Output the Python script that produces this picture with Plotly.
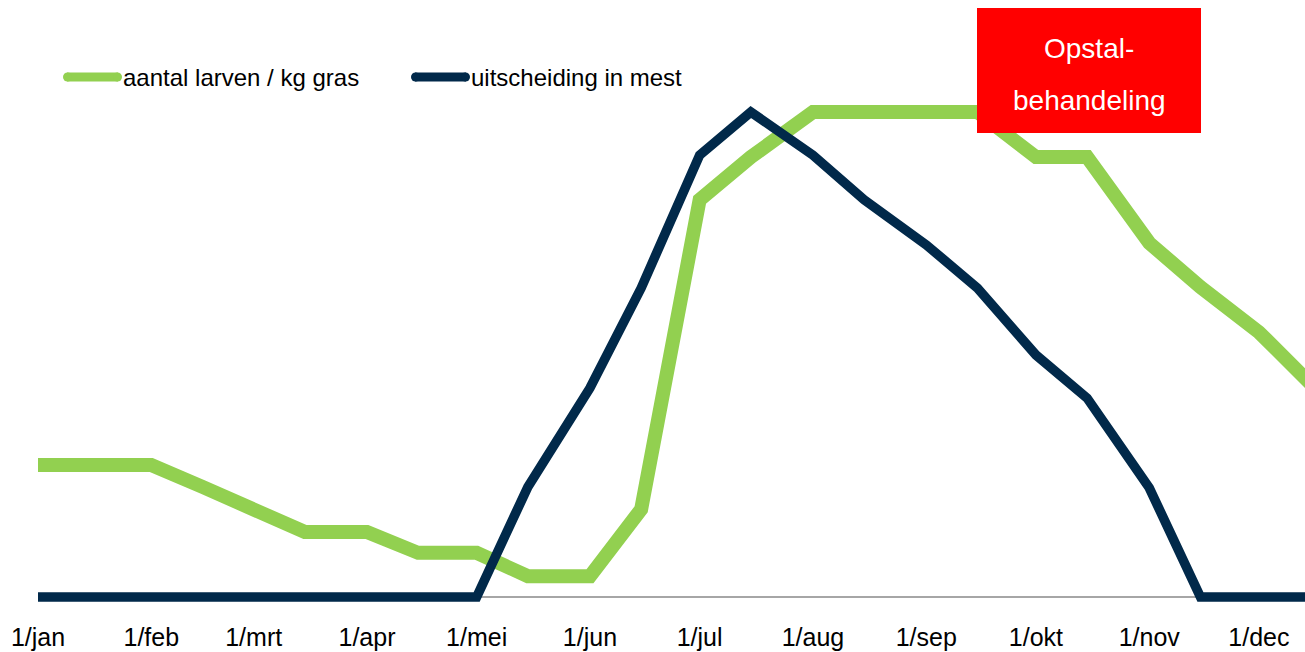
import plotly.graph_objects as go

# ---- data (semi-monthly points) ----
dates = [
    "2019-01-01", "2019-01-15", "2019-02-01", "2019-02-15", "2019-03-01", "2019-03-15",
    "2019-04-01", "2019-04-15", "2019-05-01", "2019-05-15", "2019-06-01", "2019-06-15",
    "2019-07-01", "2019-07-15", "2019-08-01", "2019-08-15", "2019-09-01", "2019-09-15",
    "2019-10-01", "2019-10-15", "2019-11-01", "2019-11-15", "2019-12-01", "2019-12-15",
]
larven = [27.2, 27.2, 27.2, 22.7, 18.1, 13.4,
          13.4, 9.1, 9.1, 4.3, 4.3, 18.1,
          81.9, 90.7, 100, 100, 100, 100,
          90.7, 90.7, 73.0, 63.9, 54.6, 44.1]
mest = [0, 0, 0, 0, 0, 0,
        0, 0, 0, 22.7, 43.1, 63.7,
        91.1, 100, 91.1, 81.9, 72.6, 63.7,
        49.9, 41.0, 22.5, 0, 0, 0]

tick_vals = ["2019-%02d-01" % m for m in range(1, 13)]
tick_text = ["1/jan", "1/feb", "1/mrt", "1/apr", "1/mei", "1/jun",
             "1/jul", "1/aug", "1/sep", "1/okt", "1/nov", "1/dec"]

series_names = ["aantal larven / kg gras", "uitscheiding in mest"]
green = "#92D050"
navy = "#01294A"
FONT = "Liberation Sans, Arial, sans-serif"

W, H = 1305, 652
ML, MR, MT, MB = 38, 0, 0, 40
PW, PH = W - ML - MR, H - MT - MB


def px_x(px):
    return (px - ML) / PW


def px_y(py):
    return (H - MB - py) / PH


fig = go.Figure()
fig.add_trace(go.Scatter(x=dates, y=larven, mode="lines", name=series_names[0],
                         line=dict(color=green, width=14), showlegend=False))
fig.add_trace(go.Scatter(x=dates, y=mest, mode="lines", name=series_names[1],
                         line=dict(color=navy, width=9.5), showlegend=False))

shapes = []
annotations = []
# manual legend
for (x0, x1, col, name) in [(63, 122, green, series_names[0]), (411, 470, navy, series_names[1])]:
    shapes.append(dict(type="line", xref="paper", yref="paper",
                       x0=px_x(x0 + 4), x1=px_x(x1 - 4), y0=px_y(77), y1=px_y(77),
                       line=dict(color=col, width=9)))
    for cx in (x0 + 4.5, x1 - 4.5):
        shapes.append(dict(type="circle", xref="paper", yref="paper",
                           x0=px_x(cx - 4.5), x1=px_x(cx + 4.5),
                           y0=px_y(77 + 4.5), y1=px_y(77 - 4.5),
                           fillcolor=col, line=dict(width=0)))
    annotations.append(dict(text=name, xref="paper", yref="paper",
                            x=px_x(x1 - 1), y=px_y(77), xanchor="left", yanchor="middle",
                            showarrow=False, font=dict(family=FONT, size=24, color="black")))

# red box
shapes.append(dict(type="rect", xref="paper", yref="paper", layer="above",
                   x0=px_x(977), x1=px_x(1201), y0=px_y(133), y1=px_y(8),
                   fillcolor="#FF0000", line=dict(width=0)))
for txt, yc in [("Opstal-", 48), ("behandeling", 101)]:
    annotations.append(dict(text=txt, xref="paper", yref="paper",
                            x=px_x(1089), y=px_y(yc), xanchor="center", yanchor="middle",
                            showarrow=False, font=dict(family=FONT, size=28, color="white")))

y0px = 597
unit = (y0px - 112) / 100.0
y_lo = -(H - MB - y0px) / unit
y_hi = (y0px - MT) / unit

fig.update_layout(
    width=W, height=H,
    margin=dict(l=ML, r=MR, t=MT, b=MB),
    paper_bgcolor="white", plot_bgcolor="white",
    xaxis=dict(type="date", range=["2019-01-01", "2019-12-13 14:24"],
               tickvals=tick_vals, ticktext=tick_text, ticks="",
               ticklabelstandoff=8,
               showgrid=False, zeroline=False, showline=False,
               tickfont=dict(family=FONT, size=25, color="black")),
    yaxis=dict(range=[y_lo, y_hi], showgrid=False, showticklabels=False,
               zeroline=True, zerolinecolor="#A6A6A6", zerolinewidth=1.5,
               showline=False),
    shapes=shapes, annotations=annotations, showlegend=False,
)

fig.write_html("out.html")
